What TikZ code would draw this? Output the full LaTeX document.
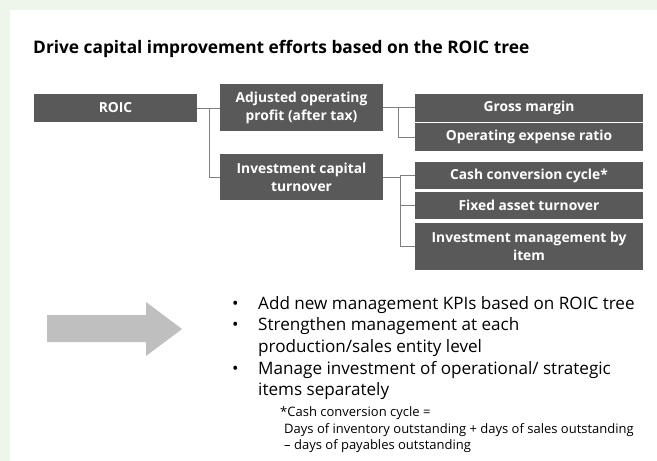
\documentclass[tikz,border=0pt]{standalone}
\usepackage{fontspec}
\setmainfont{Open Sans}
\definecolor{bggreen}{HTML}{EEF5EB}
\definecolor{boxgray}{HTML}{595959}
\definecolor{linegray}{HTML}{7F7F7F}
\definecolor{arrowgray}{HTML}{BFBFBF}
\begin{document}
\begin{tikzpicture}[x=1pt,y=-1pt,
  kpibox/.style={fill=boxgray,text=white,font=\bfseries\fontsize{13.8}{18}\selectfont,align=center,inner sep=0pt},
  conn/.style={draw=linegray,line width=0.9pt},
  bul/.style={anchor=base west,inner sep=0pt,font=\fontsize{17.1}{20}\selectfont},
  foot/.style={anchor=base west,inner sep=0pt,font=\fontsize{13}{15}\selectfont}]
\useasboundingbox (0,0) rectangle (657,461);
\fill[bggreen] (0,0) rectangle (657,461);
\fill[white] (10,10) rectangle (657,461);
\node[anchor=base west,inner sep=0pt,font=\bfseries\fontsize{17.3}{20}\selectfont] (title) at (33,53) {Drive capital improvement efforts based on the ROIC tree};
% boxes
\node[kpibox,minimum width=163,minimum height=28] (roic) at (115.5,108) {ROIC};
\node[kpibox,minimum width=163,minimum height=47] (adj) at (301.5,107.5) {Adjusted operating\\profit (after tax)};
\node[kpibox,minimum width=163,minimum height=46] (inv) at (301.5,177) {Investment capital\\turnover};
\node[kpibox,minimum width=228,minimum height=28] (gm) at (529,108) {Gross margin};
\node[kpibox,minimum width=228,minimum height=28] (oer) at (529,137) {Operating expense ratio};
\node[kpibox,minimum width=228,minimum height=27] (ccc) at (529,175.5) {Cash conversion cycle*};
\node[kpibox,minimum width=228,minimum height=27] (fat) at (529,205.5) {Fixed asset turnover};
\node[kpibox,minimum width=228,minimum height=47] (imi) at (529,246.5) {Investment management by\\item};
% connectors
\draw[conn] (roic.east) -- (roic.east -| adj.west);
\draw[conn] (roic.east) ++(12,0) |- (inv.west);
\draw[conn] (adj.east) -- (adj.east -| gm.west);
\draw[conn] (adj.east) ++(15,0) |- (oer.west);
\draw[conn] (inv.east) -- ++(17,0) coordinate (invj);
\draw[conn] (invj) |- (ccc.west);
\draw[conn] (invj) |- (fat.west);
\draw[conn] (invj) |- (imi.west);
% arrow
\fill[arrowgray] (47,315) -- (146,315) -- (146,302) -- (182,329) -- (146,356) -- (146,342) -- (47,342) -- cycle;
% bullets
\node[bul] (b1) at (232,309) {\textbullet};
\node[bul] (b2) at (232,330.7) {\textbullet};
\node[bul] (b3) at (232,374.1) {\textbullet};
\node[bul] (t1) at (258,309) {Add new management KPIs based on ROIC tree};
\node[bul] (t2) at (258,330.7) {Strengthen management at each};
\node[bul] (t2b) at (258,352.4) {production/sales entity level};
\node[bul] (t3) at (258,374.1) {Manage investment of operational/ strategic};
\node[bul] (t3b) at (258,395.8) {items separately};
\node[foot] (f1) at (280,416.5) {*Cash conversion cycle =};
\node[foot] (f2) at (284,433.5) {Days of inventory outstanding + days of sales outstanding};
\node[foot] (f3) at (284,449.5) {– days of payables outstanding};
\end{tikzpicture}
\end{document}
